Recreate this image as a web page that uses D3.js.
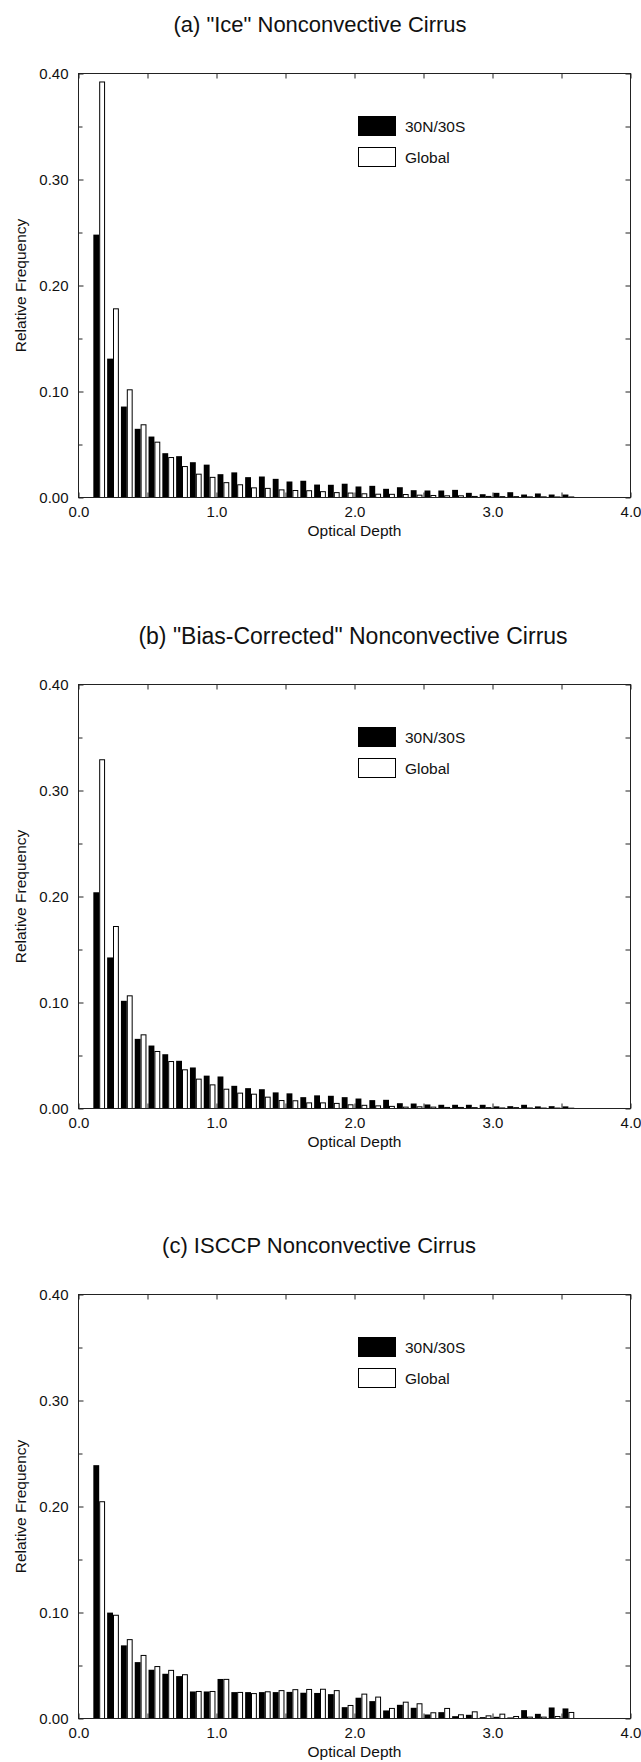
<!DOCTYPE html>
<html><head><meta charset="utf-8">
<script src="https://cdn.jsdelivr.net/npm/d3@7"></script>
<style>
html,body{margin:0;padding:0;background:#fff;}
svg{display:block;font-family:"Liberation Sans",Arial,Helvetica,sans-serif;}
</style>
</head><body>
<svg id="chart" width="641" height="1762"></svg>
<script>
// ---------- data ----------
const binCenters = [0.15,0.25,0.35,0.45,0.55,0.65,0.75,0.85,0.95,1.05,
                    1.15,1.25,1.35,1.45,1.55,1.65,1.75,1.85,1.95,2.05,
                    2.15,2.25,2.35,2.45,2.55,2.65,2.75,2.85,2.95,3.05,
                    3.15,3.25,3.35,3.45,3.55];
const seriesNames = ["30N/30S", "Global"];
const panelTitles = ['(a) "Ice" Nonconvective Cirrus',
                     '(b) "Bias-Corrected" Nonconvective Cirrus',
                     '(c) ISCCP Nonconvective Cirrus'];

const iceTropics = [0.248,0.131,0.0858,0.0648,0.0575,0.0418,0.039,0.0333,0.031,0.022,
                    0.0237,0.0192,0.0198,0.0176,0.0151,0.0158,0.0122,0.012,0.013,0.0104,
                    0.011,0.0082,0.0097,0.0069,0.0066,0.0066,0.0072,0.0044,0.0031,0.0044,
                    0.005,0.0028,0.0038,0.0028,0.0028];
const iceGlobal  = [0.392,0.178,0.1016,0.0686,0.0522,0.0377,0.0292,0.022,0.019,0.014,
                    0.012,0.0091,0.0086,0.0072,0.0066,0.0064,0.0055,0.0046,0.0042,0.0035,
                    0.0031,0.003,0.0028,0.0022,0.0019,0.0016,0.0016,0.001,0.001,0.0008,
                    0.0008,0.0006,0.0006,0.0005,0.0005];

const biasTropics = [0.204,0.1425,0.1016,0.0657,0.0594,0.0512,0.045,0.0387,0.031,0.0302,
                     0.0214,0.0192,0.0182,0.0152,0.0143,0.0107,0.0124,0.012,0.0107,0.0094,
                     0.0079,0.0082,0.005,0.0047,0.0038,0.0035,0.0035,0.0035,0.0035,0.002,
                     0.0022,0.0035,0.002,0.0022,0.002];
const biasGlobal  = [0.329,0.1717,0.1063,0.0695,0.0538,0.0443,0.0365,0.0277,0.0223,0.0182,
                     0.0145,0.0135,0.0107,0.0075,0.0073,0.0053,0.0053,0.0048,0.0035,0.003,
                     0.0025,0.002,0.0013,0.0016,0.0013,0.001,0.001,0.0008,0.0008,0.0005,
                     0.0008,0.0005,0.0004,0.0004,0.0003];

const isccpTropics = [0.239,0.0999,0.069,0.0532,0.046,0.0422,0.04,0.0255,0.0255,0.0373,
                      0.0249,0.0249,0.0249,0.0249,0.0251,0.0243,0.0241,0.023,0.0107,0.0196,
                      0.0164,0.0076,0.0129,0.0101,0.0038,0.006,0.0022,0.0035,0.0013,0.0016,
                      0.001,0.0079,0.0044,0.0104,0.0095];
const isccpGlobal  = [0.2045,0.0974,0.0744,0.0595,0.049,0.0454,0.0413,0.0255,0.0255,0.0369,
                      0.0246,0.0235,0.0252,0.0263,0.0272,0.0274,0.0276,0.0263,0.0123,0.023,
                      0.0202,0.0095,0.0154,0.0139,0.0054,0.0095,0.0035,0.0063,0.0025,0.0041,
                      0.0019,0.0013,0.0013,0.0019,0.0057];

const xTickLabels = [0, 1, 2, 3, 4];
const xMinorTicks = [0.5, 1.5, 2.5, 3.5];
const yTickLabels = [0, 0.1, 0.2, 0.3, 0.4];
const yMinorTicks = [0.05, 0.15, 0.25, 0.35];
const xLabel = "Optical Depth";
const yLabel = "Relative Frequency";

// ---------- layout ----------
const panels = [
  {title: panelTitles[0], a: iceTropics,   b: iceGlobal,   top: 73.5,   tx: 320, tsize: 22},
  {title: panelTitles[1], a: biasTropics,  b: biasGlobal,  top: 684.5,  tx: 353, tsize: 23},
  {title: panelTitles[2], a: isccpTropics, b: isccpGlobal, top: 1294.5, tx: 319, tsize: 22}
];
const L = 78.5, R = 630.5, H = 424;
const halfBin = 0.0425;
const ink = "#111";

const svg = d3.select("#chart");
svg.append("rect").attr("width", 641).attr("height", 1762).attr("fill", "#fff");

panels.forEach(p => {
  const top = p.top, bot = top + H;
  const x = d3.scaleLinear().domain([0, 4]).range([L, R]);
  const y = d3.scaleLinear().domain([0, 0.4]).range([bot, top]);
  const g = svg.append("g");

  // title
  g.append("text").attr("x", p.tx).attr("y", top - 49)
    .attr("text-anchor", "middle").attr("dominant-baseline", "central")
    .attr("font-size", p.tsize).attr("fill", ink).text(p.title);

  // bars: 30N/30S (black)
  g.append("g").selectAll("rect").data(binCenters).join("rect")
    .attr("x", d => x(d - halfBin))
    .attr("width", d => x(d) - x(d - halfBin))
    .attr("y", (d, i) => y(p.a[i]))
    .attr("height", (d, i) => y(0) - y(p.a[i]))
    .attr("fill", "#000");
  // bars: Global (white, outlined)
  g.append("g").selectAll("rect").data(binCenters).join("rect")
    .attr("x", d => x(d) + 0.5)
    .attr("width", d => x(d + halfBin) - x(d) - 1)
    .attr("y", (d, i) => y(p.b[i]))
    .attr("height", (d, i) => Math.max(0, y(0) - y(p.b[i])))
    .attr("fill", "#fff").attr("stroke", "#000").attr("stroke-width", 1);

  // axes (ticks inward on all sides)
  const styleAxis = sel => {
    sel.select(".domain").remove();
    sel.selectAll("line").attr("stroke", "#222");
    sel.selectAll("text").attr("fill", ink).attr("font-size", 15)
      .attr("font-family", '"Liberation Sans", Arial, sans-serif');
  };
  g.append("g").attr("transform", `translate(0,${bot})`)
    .call(d3.axisBottom(x).tickValues(xTickLabels).tickSize(-5).tickPadding(9)
      .tickFormat(d3.format(".1f"))).call(styleAxis);
  g.append("g").attr("transform", `translate(0,${bot})`)
    .call(d3.axisBottom(x).tickValues(xMinorTicks).tickSize(-5).tickFormat("")).call(styleAxis);
  g.append("g").attr("transform", `translate(0,${top})`)
    .call(d3.axisTop(x).tickValues(xTickLabels.concat(xMinorTicks)).tickSize(-5).tickFormat("")).call(styleAxis);
  g.append("g").attr("transform", `translate(${L},0)`)
    .call(d3.axisLeft(y).tickValues(yTickLabels).tickSize(-5).tickPadding(10)
      .tickFormat(d3.format(".2f"))).call(styleAxis);
  g.append("g").attr("transform", `translate(${L},0)`)
    .call(d3.axisLeft(y).tickValues(yMinorTicks).tickSize(-4).tickFormat("")).call(styleAxis);
  g.append("g").attr("transform", `translate(${R},0)`)
    .call(d3.axisRight(y).tickValues(yTickLabels.concat(yMinorTicks)).tickSize(-5).tickFormat("")).call(styleAxis);

  // frame
  g.append("rect").attr("x", L).attr("y", top).attr("width", R - L).attr("height", H)
    .attr("fill", "none").attr("stroke", "#222").attr("stroke-width", 1);

  // axis titles
  g.append("text").attr("x", (L + R) / 2).attr("y", bot + 33)
    .attr("text-anchor", "middle").attr("dominant-baseline", "central")
    .attr("font-size", 15.5).attr("fill", ink).text(xLabel);
  g.append("text").attr("transform", `translate(20,${(top + bot) / 2}) rotate(-90)`)
    .attr("text-anchor", "middle").attr("dominant-baseline", "central")
    .attr("font-size", 15.5).attr("fill", ink).text(yLabel);

  // legend
  const lg = g.append("g");
  seriesNames.forEach((name, i) => {
    const ly = top + 43 + i * 31;
    lg.append("rect").attr("x", 358.5).attr("y", ly).attr("width", 37).attr("height", 19)
      .attr("fill", i === 0 ? "#000" : "#fff").attr("stroke", "#000").attr("stroke-width", 1);
    lg.append("text").attr("x", 405).attr("y", ly + 10)
      .attr("dominant-baseline", "central").attr("font-size", 15.5).attr("fill", ink).text(name);
  });
});
</script>
</body></html>
